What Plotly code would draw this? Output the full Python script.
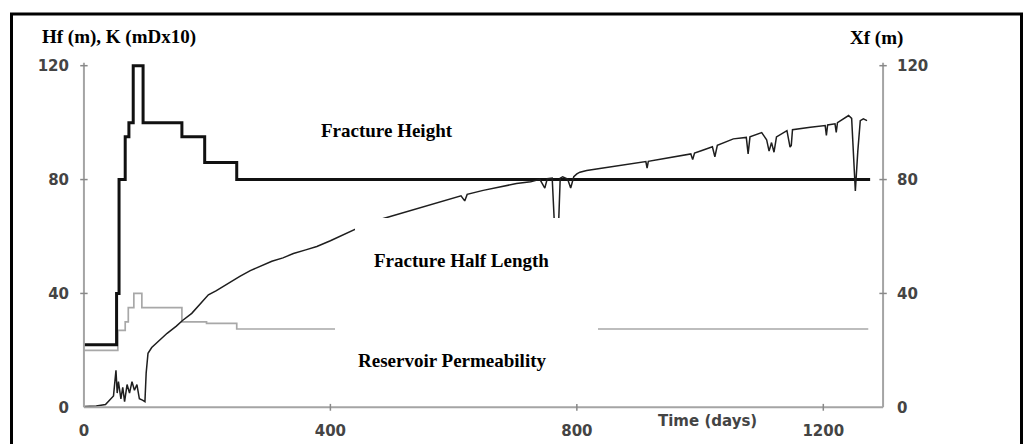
import plotly.graph_objects as go

# ---------------- data ----------------
# Fracture height Hf (m), step history
hf_days = [0, 53, 57, 67, 73, 80, 96, 159, 196, 248, 1276]
hf_m = [22, 40, 80, 95, 100, 120, 100, 95, 86, 80, 80]

# Reservoir permeability K (mD x 10), step history
k_days = [0, 55, 67, 72, 81, 94, 159, 199, 248, 1273]
k_md10 = [20, 27, 30, 35, 40, 35, 30, 29.5, 27.5, 27.5]

# Fracture half length Xf (m)
xf_days = [0, 20, 35, 42, 48, 52, 54, 56, 60, 63, 66, 70, 74, 78, 82, 86, 90, 95, 99,
           101, 104, 110, 120, 135, 150, 160, 175, 190, 202, 215, 230, 253, 270, 290,
           305, 323, 340, 360, 378, 400, 420, 440, 460, 486, 510, 540, 565, 594, 612,
           618, 622, 648, 675, 702, 725, 740, 748, 752, 760, 765, 767, 770, 773, 777,
           785, 790, 795, 800, 805, 816, 840, 870, 890, 912, 914, 916, 940, 972, 985,
           988, 991, 1003, 1020, 1024, 1028, 1054, 1075, 1078, 1081, 1100, 1108, 1112,
           1116, 1120, 1124, 1141, 1146, 1148, 1150, 1179, 1203, 1205, 1207, 1219, 1221,
           1223, 1233, 1241, 1246, 1249, 1252, 1256, 1260, 1265, 1271]
xf_m = [0.3, 0.5, 1, 2.5, 4, 13, 5, 9, 3, 7, 2, 8, 5, 9, 6, 8, 3, 2.5, 2,
        12, 19, 21, 23, 26, 28.5, 30.5, 33, 36.5, 39.5, 41, 43, 46, 48, 50,
        51.3, 52.5, 54, 55.3, 56.5, 58.5, 60.5, 62.5, 64.5, 66.3, 67.8, 69.8, 71.5, 73.3, 74.3,
        72.5, 74.8, 76.2, 77.3, 78.6, 79.2, 80.1, 77, 80.3, 80.5, 58, 55, 62, 80.5, 81,
        80.2, 77, 81, 82, 82.6, 83.2, 84, 85, 85.6, 86.3, 84, 86.4, 87.3, 88.5, 89,
        87, 89.3, 90.2, 91.5, 88, 92, 94.3, 94.8, 89, 95, 96.5, 94, 90,
        93, 89.6, 95, 97.2, 91.4, 92, 97.5, 98.4, 99, 95.5, 99.2, 99.6, 96.6,
        100, 101.3, 102.5, 101.5, 90, 76, 90, 100.7, 101.3, 100.7]

x_tick_vals = [0, 400, 800, 1200]
y_tick_vals = [0, 40, 80, 120]
x_end = 1297

# ---------------- layout geometry ----------------
W, H = 1033, 444
ML, MR, MT, MB = 79, 145, 60, 31
X_RANGE = [-8, 1305]
Y_RANGE = [-2, 122]
PW, PH = W - ML - MR, H - MT - MB


def pxx(px):
    return (px - ML) / PW


def pxy(py):
    return (H - MB - py) / PH


AXIS_GREY = "#a4a4a4"
TICK_FONT = dict(family="DejaVu Sans", size=15, color="#444444", weight="bold")
SERIF = dict(family="Liberation Serif", size=19, color="#000000", weight="bold")

fig = go.Figure()

fig.add_trace(go.Scatter(x=k_days, y=k_md10, mode="lines", line_shape="hv",
                         line=dict(color="#a8a8a8", width=1.7), name="Reservoir Permeability"))
fig.add_trace(go.Scatter(x=xf_days, y=xf_m, mode="lines", yaxis="y2",
                         line=dict(color="#1e1e1e", width=1.5), name="Fracture Half Length"))
fig.add_trace(go.Scatter(x=hf_days, y=hf_m, mode="lines", line_shape="hv",
                         line=dict(color="#111111", width=3), name="Fracture Height"))

shapes = []
# axis lines
shapes.append(dict(type="line", xref="x", yref="y", x0=0, x1=0, y0=0, y1=121,
                   line=dict(color=AXIS_GREY, width=2)))
shapes.append(dict(type="line", xref="x", yref="y", x0=x_end, x1=x_end, y0=0, y1=121,
                   line=dict(color=AXIS_GREY, width=2)))
shapes.append(dict(type="line", xref="x", yref="y", x0=0, x1=x_end, y0=0, y1=0,
                   line=dict(color=AXIS_GREY, width=2)))
# crossing tick marks
for v in y_tick_vals[1:]:
    for xa in (0, x_end):
        shapes.append(dict(type="line", xref="x", yref="y", x0=xa - 6, x1=xa + 6, y0=v, y1=v,
                           line=dict(color="#888888", width=1.5)))
for v in x_tick_vals[1:]:
    shapes.append(dict(type="line", xref="x", yref="y", x0=v, x1=v, y0=-1.2, y1=1.2,
                       line=dict(color="#888888", width=1.5)))
# white label panels
shapes.append(dict(type="rect", xref="paper", yref="paper", layer="above",
                   x0=pxx(355), x1=pxx(600), y0=pxy(290), y1=pxy(218),
                   fillcolor="white", line=dict(width=0)))
shapes.append(dict(type="rect", xref="paper", yref="paper", layer="above",
                   x0=pxx(335), x1=pxx(598), y0=pxy(380), y1=pxy(300),
                   fillcolor="white", line=dict(width=0)))
# outer frame
shapes.append(dict(type="rect", xref="paper", yref="paper", layer="above",
                   x0=pxx(11.5), x1=pxx(1021.5), y0=pxy(470), y1=pxy(14),
                   fillcolor="rgba(0,0,0,0)", line=dict(color="black", width=3)))


def label(text, px, py, font, xanchor="center"):
    return dict(text=text, xref="paper", yref="paper", x=pxx(px), y=pxy(py),
                xanchor=xanchor, yanchor="middle", showarrow=False, font=font)


annotations = [
    label("Hf (m), K (mDx10)", 40, 37, SERIF, "left"),
    label("Xf (m)", 876, 38, SERIF),
    label("Fracture Height", 387, 130, SERIF),
    label("Fracture Half Length", 461, 260, SERIF),
    label("Reservoir Permeability", 452, 360, SERIF),
    label("Time (days)", 707, 421, TICK_FONT),
]

axis_common = dict(range=Y_RANGE, tickvals=y_tick_vals, ticks="", showgrid=False,
                   zeroline=False, showline=False, tickfont=TICK_FONT, automargin=False)

fig.update_layout(
    width=W, height=H,
    margin=dict(l=ML, r=MR, t=MT, b=MB, pad=0, autoexpand=False),
    paper_bgcolor="white", plot_bgcolor="white",
    showlegend=False,
    shapes=shapes,
    annotations=annotations,
    xaxis=dict(range=X_RANGE, tickvals=x_tick_vals, ticks="", showgrid=False,
               zeroline=False, showline=False, tickfont=TICK_FONT, ticklabelstandoff=7,
               automargin=False),
    yaxis=dict(**axis_common, ticklabelstandoff=9),
    yaxis2=dict(**axis_common, overlaying="y", side="right", ticklabelstandoff=8),
)

fig.write_html("out.html", config={"displayModeBar": False})
